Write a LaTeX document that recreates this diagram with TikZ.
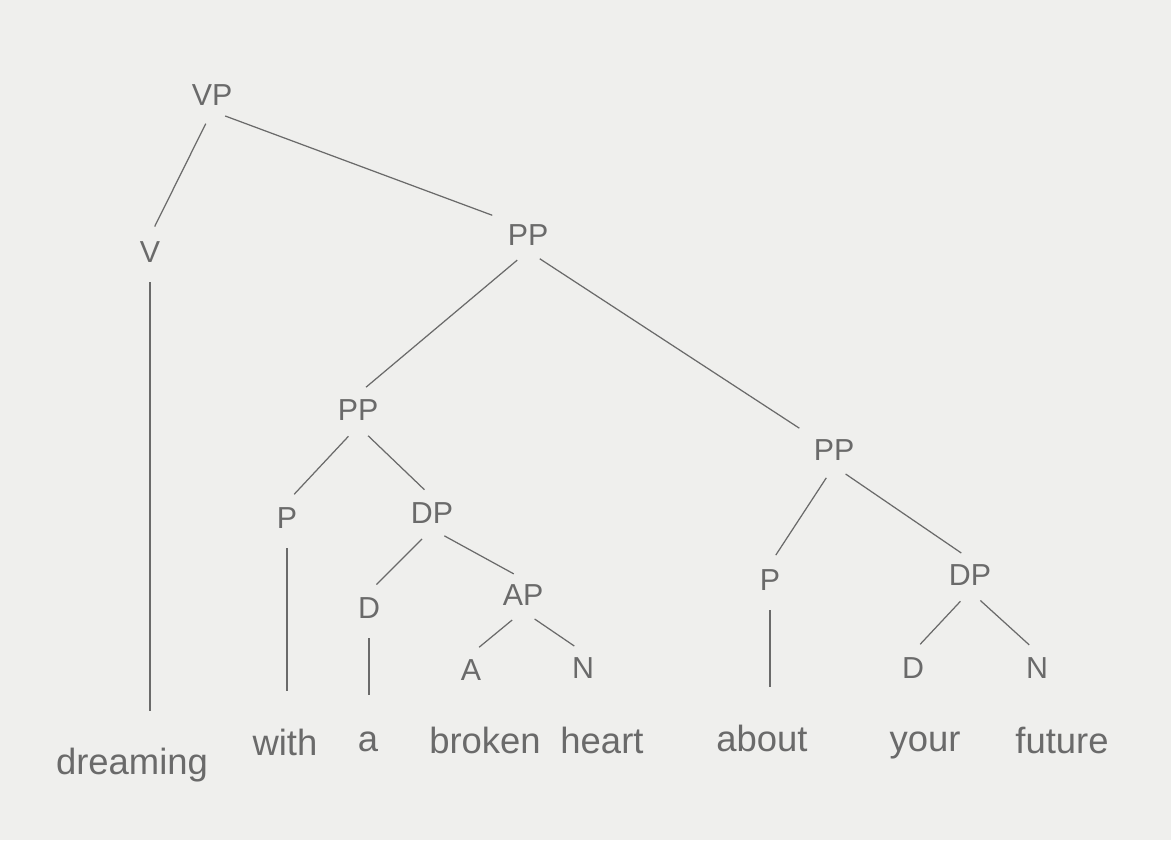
\documentclass[tikz,border=0pt]{standalone}
\usepackage{fontspec}
\usepackage{xcolor}
\setmainfont{Liberation Sans}
\usetikzlibrary{positioning}
\definecolor{PaperWhite}{HTML}{EFEFED}
\definecolor{PencilGray}{HTML}{6A6A6A}

\begin{document}
\begin{tikzpicture}[x=0.02cm,y=-0.02cm,
    cat/.style={text=PencilGray,font=\LARGE,inner sep=3pt},
    word/.style={text=PencilGray,font=\huge,inner sep=3pt},
    branch/.style={draw=PencilGray,line width=0.7pt,shorten <=8pt,shorten >=6pt},
    leaf/.style={branch,shorten >=18pt}]
  % paper
  \fill[PaperWhite] (0,0) rectangle (1171,840);
  \useasboundingbox (0,0) rectangle (1171,840);

  % categories
  \node[cat] (vp)   at (212,95)  {VP};
  \node[cat] (v)    at (150,252) {V};
  \node[cat] (pp)   at (528,235) {PP};
  \node[cat] (ppl)  at (358,410) {PP};
  \node[cat] (pl)   at (287,518) {P};
  \node[cat] (dpl)  at (432,513) {DP};
  \node[cat] (dl)   at (369,608) {D};
  \node[cat] (ap)   at (523,595) {AP};
  \node[cat] (a)    at (471,670) {A};
  \node[cat] (nl)   at (583,668) {N};
  \node[cat] (ppr)  at (834,450) {PP};
  \node[cat] (pr)   at (770,580) {P};
  \node[cat] (dpr)  at (970,575) {DP};
  \node[cat] (dr)   at (913,668) {D};
  \node[cat] (nr)   at (1037,668) {N};

  % words
  \node[word] (dreaming) at (132,765) {dreaming};
  \node[word] (with)     at (285,742) {with};
  \node[word] (det)      at (368,742) {a};
  \node[word] (broken)   at (485,740) {broken};
  \node[word] (heart)    at (602,740) {heart};
  \node[word] (about)    at (762,738) {about};
  \node[word] (your)     at (925,745) {your};
  \node[word] (future)   at (1062,740) {future};

  % branches
  \draw[branch] (vp.south) -- (v.north);
  \draw[branch] (vp.south) -- (pp.north west);
  \draw[branch] (pp.south) -- (ppl.north);
  \draw[branch] (pp.south) -- (ppr.north west);
  \draw[branch] (ppl.south) -- (pl.north);
  \draw[branch] (ppl.south) -- (dpl.north);
  \draw[branch] (dpl.south) -- (dl.north);
  \draw[branch] (dpl.south) -- (ap.north);
  \draw[branch] (ap.south) -- (a.north);
  \draw[branch] (ap.south) -- (nl.north);
  \draw[branch] (ppr.south) -- (pr.north);
  \draw[branch] (ppr.south) -- (dpr.north);
  \draw[branch] (dpr.south) -- (dr.north);
  \draw[branch] (dpr.south) -- (nr.north);
  \draw[leaf] (v.south) -- (v.south |- dreaming.north);
  \draw[leaf] (pl.south) -- (pl.south |- with.north);
  \draw[leaf] (dl.south) -- (dl.south |- det.north);
  \draw[leaf] (pr.south) -- (pr.south |- about.north);
\end{tikzpicture}
\end{document}
